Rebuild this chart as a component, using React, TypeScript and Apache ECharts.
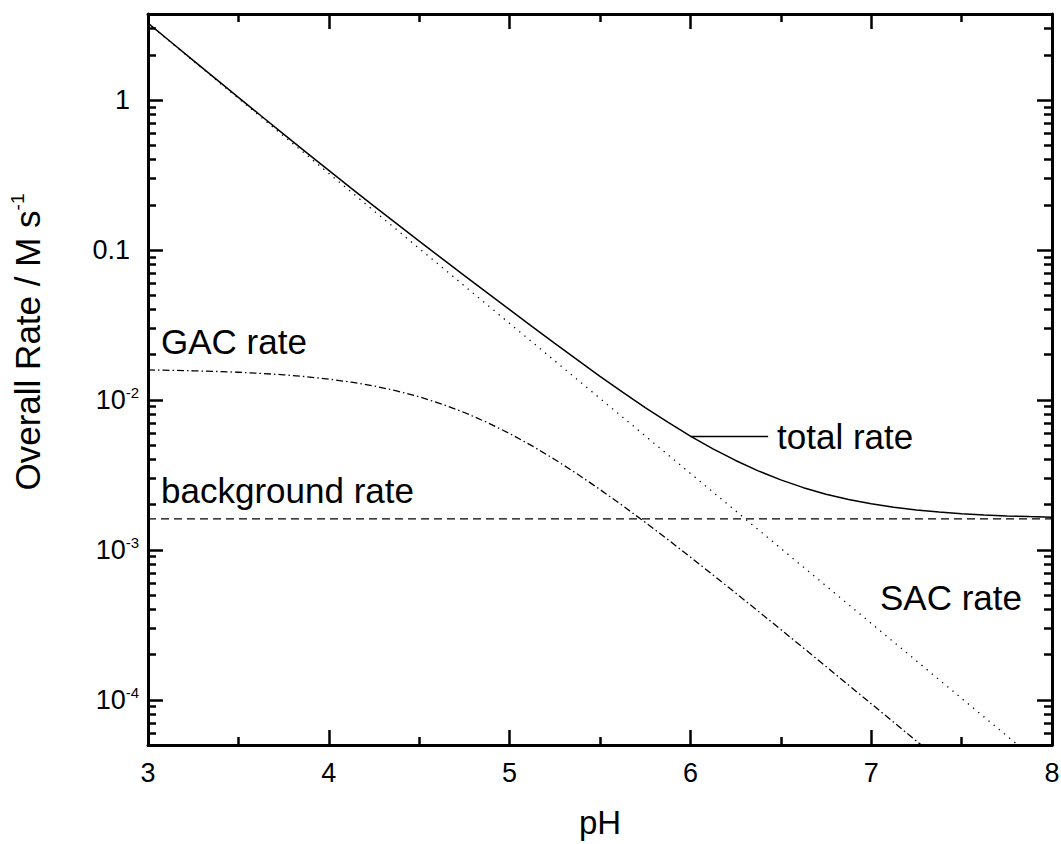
import React, { useEffect, useRef } from 'react';
import * as echarts from 'echarts';

// ---- data ----
const phGrid = [
  3, 3.125, 3.25, 3.375, 3.5, 3.625, 3.75, 3.875, 4, 4.125, 4.25, 4.375, 4.5, 4.625, 4.75, 4.875,
  5, 5.125, 5.25, 5.375, 5.5, 5.625, 5.75, 5.875, 6, 6.125, 6.25, 6.375, 6.5, 6.625, 6.75, 6.875,
  7, 7.125, 7.25, 7.375, 7.5, 7.625, 7.75, 7.875, 8,
];
const totalRate = [
  3.253, 2.444, 1.837, 1.382, 1.040, 0.7840, 0.5917, 0.4474, 0.3390, 0.2574, 0.1960, 0.1496, 0.1144, 0.08773, 0.06739, 0.05184,
  0.03994, 0.03081, 0.02382, 0.01846, 0.01437, 0.01126, 0.008890, 0.007097, 0.005741, 0.004718, 0.003946, 0.003365, 0.002927, 0.002599, 0.002352, 0.002167,
  0.002028, 0.001924, 0.001845, 0.001786, 0.001742, 0.001709, 0.001684, 0.001666, 0.001652,
];
const sacRate = [
  3.236, 2.427, 1.820, 1.365, 1.023, 0.7674, 0.5754, 0.4315, 0.3236, 0.2427, 0.1820, 0.1365, 0.1023, 0.07674, 0.05754, 0.04315,
  0.03236, 0.02427, 0.01820, 0.01365, 0.01023, 0.007674, 0.005754, 0.004315, 0.003236, 0.002427, 0.001820, 0.001365, 0.001023, 0.0007674, 0.0005754, 0.0004315,
  0.0003236, 0.0002427, 0.0001820, 0.0001365, 0.0001023, 0.00007674, 0.00005754, 0.00004315, 0.00003236,
];
const gacRate = [
  0.01583, 0.01574, 0.01563, 0.01548, 0.01528, 0.01502, 0.01470, 0.01428, 0.01376, 0.01313, 0.01237, 0.01148, 0.01048, 0.009382, 0.008236, 0.007082,
  0.005967, 0.004932, 0.004005, 0.003203, 0.002527, 0.001973, 0.001526, 0.001172, 0.0008953, 0.0006809, 0.0005161, 0.0003901, 0.0002943, 0.0002217, 0.0001669, 0.0001254,
  0.00009425, 0.00007079, 0.00005314, 0.00003988, 0.00002993, 0.00002245, 0.00001684, 0.00001263, 0.00000947,
];
const backgroundPh = [3, 8];
const backgroundRate = [0.00161, 0.00161];

const yMajorTicks = [0.0001, 0.001, 0.01, 0.1, 1];
const yMajorLabels = ['{n|10}{s|-4}', '{n|10}{s|-3}', '{n|10}{s|-2}', '{p|0.1}', '{p|1}'];
const yMinorTicks = [
  0.00006, 0.00007, 0.00008, 0.00009,
  0.0002, 0.0003, 0.0004, 0.0005, 0.0006, 0.0007, 0.0008, 0.0009,
  0.002, 0.003, 0.004, 0.005, 0.006, 0.007, 0.008, 0.009,
  0.02, 0.03, 0.04, 0.05, 0.06, 0.07, 0.08, 0.09,
  0.2, 0.3, 0.4, 0.5, 0.6, 0.7, 0.8, 0.9,
  2, 3,
];
const Y_MIN = 0.00005;
const Y_MAX = 3.74;
const X_MIN = 3;
const X_MAX = 8;

// leader line of the "total rate" label, in data units
const leaderFromPh = 6.0;
const leaderToPh = 6.43;
const leaderRate = 0.00574;

const FONT = '"Liberation Sans", Arial, Helvetica, sans-serif';
const BLACK = '#000';

function pairs(xs: number[], ys: number[]) {
  return xs.map((x, i) => [x, ys[i]]);
}

function xAxisDef(position: 'bottom' | 'top') {
  return {
    type: 'value',
    position,
    min: X_MIN,
    max: X_MAX,
    interval: 1,
    name: position === 'bottom' ? 'pH' : '',
    nameLocation: 'middle',
    nameGap: 61,
    nameTextStyle: { fontSize: 33, color: BLACK, fontFamily: FONT },
    axisLine: { show: true, onZero: false, lineStyle: { color: BLACK, width: 3 } },
    axisTick: { show: true, inside: true, length: 15, lineStyle: { color: BLACK, width: 2.5 } },
    minorTick: { show: true, splitNumber: 2, length: 8, lineStyle: { color: BLACK, width: 2.5 } },
    splitLine: { show: false },
    minorSplitLine: { show: false },
    axisLabel: position === 'bottom'
      ? { show: true, fontSize: 27, color: BLACK, fontFamily: FONT, margin: 14 }
      : { show: false },
  };
}

function yAxisDef(position: 'left' | 'right', major: boolean) {
  return {
    type: 'log',
    logBase: 10,
    position,
    min: Y_MIN,
    max: Y_MAX,
    axisLine: { show: major, onZero: false, lineStyle: { color: BLACK, width: 3 } },
    axisTick: {
      show: true,
      inside: true,
      length: major ? 15 : 8,
      customValues: major ? yMajorTicks : yMinorTicks,
      lineStyle: { color: BLACK, width: 2.5 },
    },
    minorTick: { show: false },
    splitLine: { show: false },
    minorSplitLine: { show: false },
    axisLabel: position === 'left' && major
      ? {
          show: true,
          customValues: yMajorTicks,
          margin: 9,
          formatter: (v: number) => {
            let best = 0;
            let bestDiff = Infinity;
            yMajorTicks.forEach((t, i) => {
              const d = Math.abs(Math.log10(t) - Math.log10(v));
              if (d < bestDiff) { bestDiff = d; best = i; }
            });
            return yMajorLabels[best];
          },
          rich: {
            n: { fontSize: 27, lineHeight: 30, color: BLACK, fontFamily: FONT },
            s: { fontSize: 15, lineHeight: 12, verticalAlign: 'top', color: BLACK, fontFamily: FONT },
            p: { fontSize: 27, lineHeight: 30, color: BLACK, fontFamily: FONT, padding: [0, 9, 0, 0] },
          },
        }
      : { show: false },
  };
}

export default function App() {
  const ref = useRef<HTMLDivElement>(null);

  useEffect(() => {
    if (!ref.current) return;
    const chart = echarts.init(ref.current, undefined, { renderer: 'svg' });

    const textStyle = (size: number) => ({ fontSize: size, fontFamily: FONT, fill: BLACK });

    chart.setOption({
      animation: false,
      backgroundColor: '#fff',
      textStyle: { fontFamily: FONT, color: BLACK },
      grid: { left: 148, right: 9, top: 14, bottom: 99, containLabel: false, outerBoundsMode: 'none' },
      xAxis: [xAxisDef('bottom'), xAxisDef('top')],
      yAxis: [yAxisDef('left', true), yAxisDef('left', false), yAxisDef('right', true), yAxisDef('right', false)],
      series: [
        {
          name: 'total rate',
          type: 'line',
          xAxisIndex: 0,
          yAxisIndex: 0,
          data: pairs(phGrid, totalRate),
          symbol: 'none',
          lineStyle: { color: BLACK, width: 1.5, type: 'solid' },
          markLine: {
            silent: true,
            symbol: ['none', 'none'],
            label: { show: false },
            lineStyle: { color: BLACK, width: 1.3, type: 'solid' },
            data: [[{ coord: [leaderFromPh, leaderRate] }, { coord: [leaderToPh, leaderRate] }]],
          },
        },
        {
          name: 'SAC rate',
          type: 'line',
          xAxisIndex: 0,
          yAxisIndex: 0,
          data: pairs(phGrid, sacRate),
          symbol: 'none',
          lineStyle: { color: BLACK, width: 1.3, type: [1.3, 5.4] },
        },
        {
          name: 'GAC rate',
          type: 'line',
          xAxisIndex: 0,
          yAxisIndex: 0,
          data: pairs(phGrid, gacRate),
          symbol: 'none',
          lineStyle: { color: BLACK, width: 1.3, type: [7, 3, 1.5, 3] },
        },
        {
          name: 'background rate',
          type: 'line',
          xAxisIndex: 0,
          yAxisIndex: 0,
          data: pairs(backgroundPh, backgroundRate),
          symbol: 'none',
          lineStyle: { color: BLACK, width: 1.3, type: [8, 5] },
        },
      ],
      graphic: [
        { type: 'text', x: 161, y: 341, style: { text: 'GAC rate', ...textStyle(35), align: 'left', verticalAlign: 'middle' } },
        { type: 'text', x: 161, y: 490, style: { text: 'background rate', ...textStyle(35), align: 'left', verticalAlign: 'middle' } },
        { type: 'text', x: 777, y: 436, style: { text: 'total rate', ...textStyle(35), align: 'left', verticalAlign: 'middle' } },
        { type: 'text', x: 880, y: 597, style: { text: 'SAC rate', ...textStyle(35), align: 'left', verticalAlign: 'middle' } },
        {
          type: 'text',
          x: 27,
          y: 342,
          rotation: Math.PI / 2,
          style: {
            text: '{a|Overall Rate / M s}{b|-1}',
            align: 'center',
            verticalAlign: 'middle',
            fill: BLACK,
            rich: {
              a: { fontSize: 35, lineHeight: 38, fontFamily: FONT, fill: BLACK },
              b: { fontSize: 19, lineHeight: 16, verticalAlign: 'top', fontFamily: FONT, fill: BLACK },
            },
          },
        },
      ],
    });

    return () => chart.dispose();
  }, []);

  return (
    <div
      ref={ref}
      style={{ position: 'fixed', left: 0, top: 0, width: 1061, height: 844, background: '#fff' }}
    />
  );
}
